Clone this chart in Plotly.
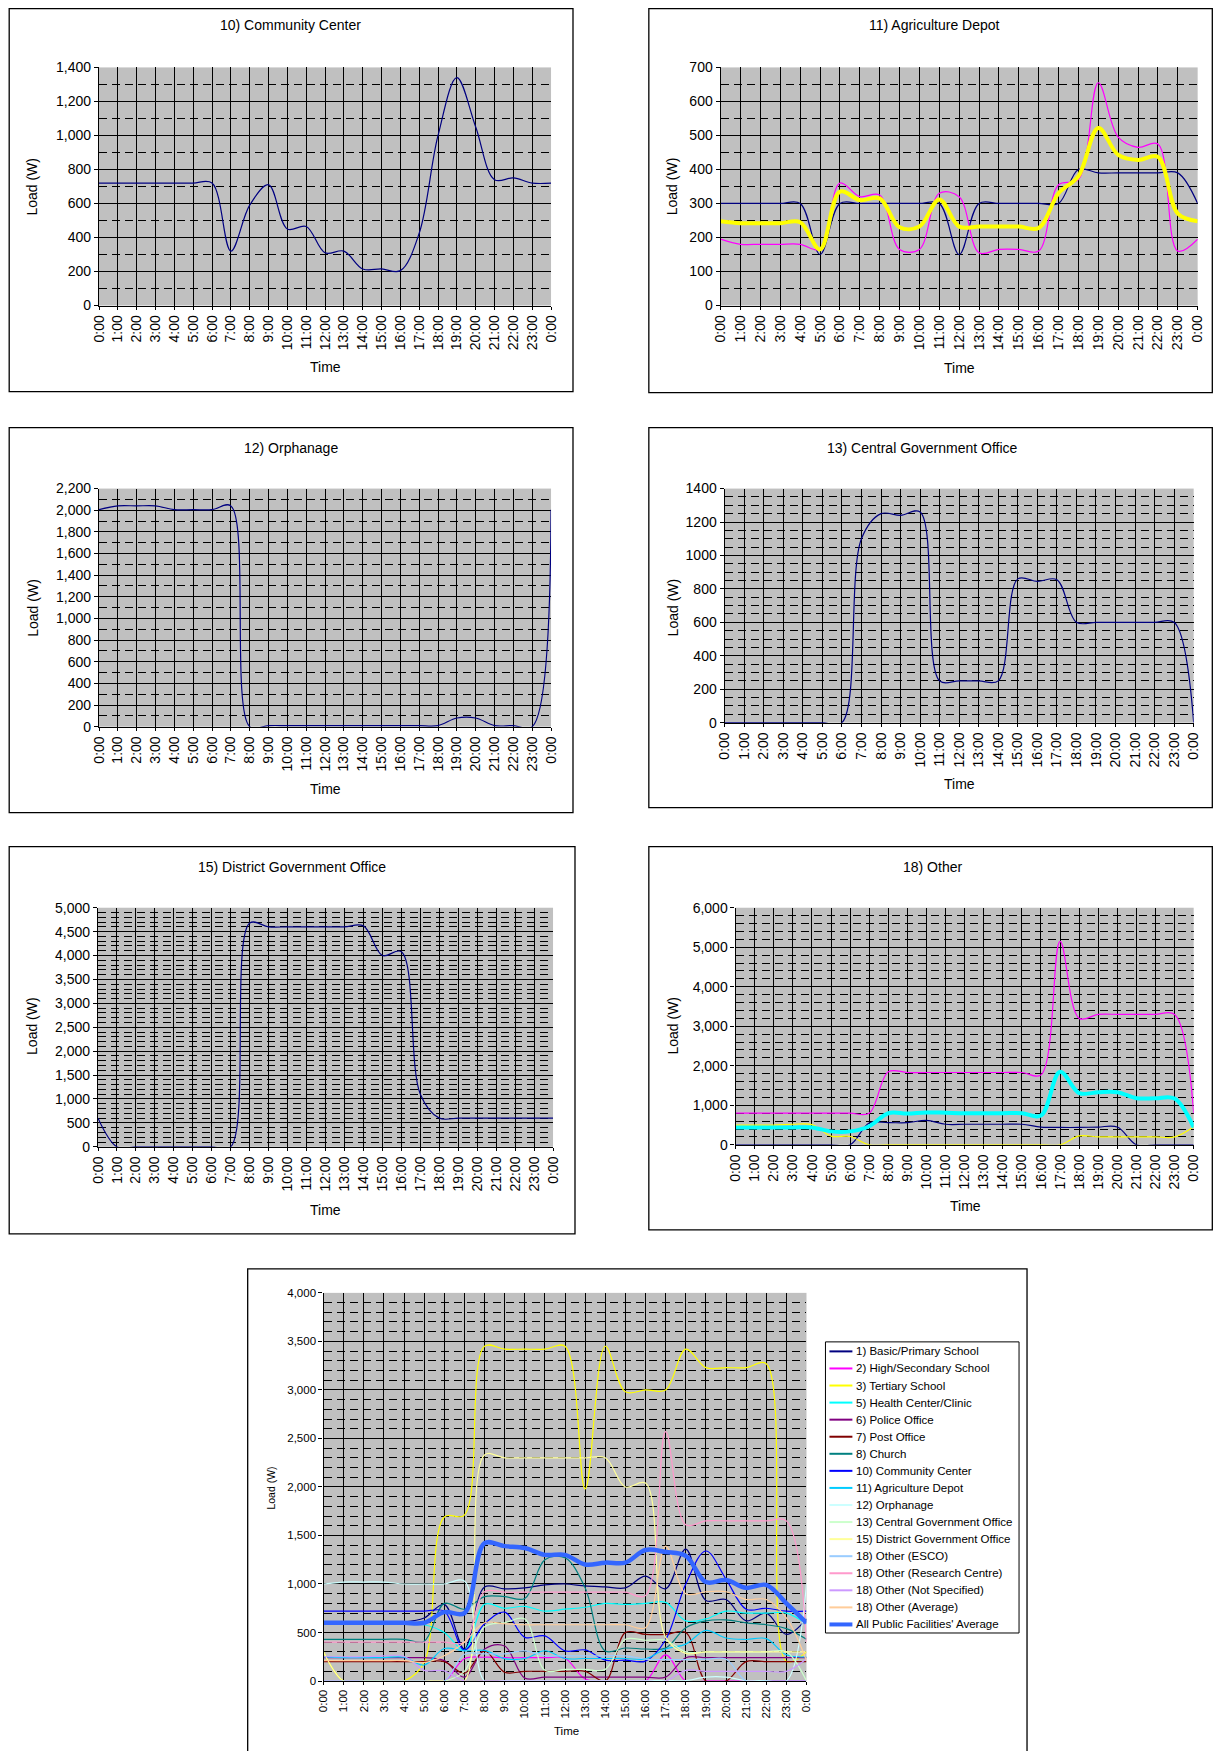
import plotly.graph_objects as go

W, H = 1221, 1751
FONT = "Liberation Sans, Arial, sans-serif"
# Measured page-to-picture mapping of the rendering pipeline (picture = S * page + C);
# target positions below are picture pixels and are mapped back to figure pixels.
SX, CX = 0.989, 7.8
SY, CY = 0.9905, 7.6

HOURS = list(range(25))
TIME_LABELS = ["0:00", "1:00", "2:00", "3:00", "4:00", "5:00", "6:00", "7:00", "8:00",
               "9:00", "10:00", "11:00", "12:00", "13:00", "14:00", "15:00", "16:00",
               "17:00", "18:00", "19:00", "20:00", "21:00", "22:00", "23:00", "0:00"]

# ---- Panel 10) Community Center
COMMUNITY = [720, 720, 720, 720, 720, 720, 720, 320, 590, 710, 450, 465, 310, 320, 215,
             215, 205, 425, 1000, 1340, 1050, 740, 750, 720, 720]

# ---- Panel 11) Agriculture Depot
AGRI_A = [300, 300, 300, 300, 300, 150, 300, 300, 300, 300, 300, 300, 150, 300, 300,
          300, 300, 300, 400, 390, 390, 390, 390, 390, 300]
AGRI_B = [195, 180, 180, 180, 180, 165, 360, 320, 325, 165, 165, 330, 320, 155, 165,
          165, 160, 355, 370, 655, 495, 465, 475, 160, 195]
AGRI_AVG = [248, 242, 242, 242, 245, 165, 335, 310, 315, 230, 232, 312, 232, 232, 232,
            232, 228, 330, 380, 522, 443, 428, 437, 270, 248]

# ---- Panel 12) Orphanage
ORPHANAGE = [2005, 2040, 2040, 2040, 2005, 2005, 2005, 2040, 0, 10, 10, 10, 10, 10, 10,
             10, 10, 10, 10, 80, 80, 10, 10, 0, 2005]

# ---- Panel 13) Central Government Office
CENTRAL_GOV = [0, 0, 0, 0, 0, 0, 0, 1100, 1250, 1240, 1260, 250, 250, 250, 250, 860,
               845, 855, 600, 600, 600, 600, 600, 600, 0]

# ---- Panel 15) District Government Office
DISTRICT_GOV = [600, 0, 0, 0, 0, 0, 0, 0, 4680, 4600, 4600, 4600, 4600, 4600, 4620,
                4000, 4080, 1100, 600, 600, 600, 600, 600, 600, 600]

# ---- Panel 18) Other
OTHER_ESCO = [0, 0, 0, 0, 0, 0, 0, 550, 560, 560, 620, 520, 520, 520, 520, 520, 450,
              440, 440, 450, 450, 0, 0, 0, 0]
OTHER_RESEARCH = [800, 800, 800, 800, 800, 800, 800, 800, 1850, 1830, 1830, 1830, 1830,
                  1830, 1830, 1830, 1770, 5150, 3200, 3300, 3300, 3300, 3300, 3300, 800]
OTHER_NOTSPEC = [500, 500, 500, 520, 510, 220, 210, 0, 0, 0, 0, 0, 0, 0, 0, 0, 0, 0,
                 225, 200, 200, 200, 200, 200, 460]
OTHER_AVG = [440, 440, 440, 440, 440, 340, 340, 470, 800, 790, 820, 810, 800, 800, 800,
             800, 740, 1850, 1310, 1330, 1330, 1180, 1180, 1170, 440]

# ---- Summary panel (all facilities)
ALL_NAMES = ["1) Basic/Primary School", "2) High/Secondary School", "3) Tertiary School",
             "5) Health Center/Clinic", "6) Police Office", "7) Post Office", "8) Church",
             "10) Community Center", "11) Agriculture Depot", "12) Orphanage",
             "13) Central Government Office", "15) District Government Office",
             "18) Other (ESCO)", "18) Other (Research Centre)", "18) Other (Not Specified)",
             "18) Other (Average)", "All Public Facilities' Average"]
S_PRIMARY = [610, 610, 610, 610, 610, 650, 790, 330, 970, 950, 960, 990, 1000, 980, 970,
             960, 1080, 950, 1360, 830, 840, 620, 700, 480, 640]
S_HIGH = [0, 0, 0, 0, 0, 0, 0, 230, 245, 240, 240, 240, 235, 20, 0, 0, 0, 270, 0, 0, 0,
          0, 0, 0, 0]
S_TERTIARY = [300, 0, 0, 0, 0, 190, 1690, 1710, 3450, 3420, 3420, 3420, 3450, 1980, 3450,
              2980, 3000, 3000, 3420, 3230, 3230, 3230, 3270, 200, 300]
S_HEALTH = [590, 590, 590, 590, 590, 580, 500, 320, 790, 750, 770, 720, 740, 760, 800,
            790, 800, 810, 620, 640, 720, 700, 700, 700, 590]
S_POLICE = [240, 240, 240, 240, 240, 240, 210, 40, 330, 360, 30, 40, 40, 40, 40, 40, 40,
            40, 240, 240, 240, 240, 240, 240, 240]
S_POST = [200, 200, 200, 200, 200, 200, 200, 80, 310, 90, 100, 100, 100, 100, 0, 500, 480,
          480, 500, 0, 0, 200, 200, 200, 200]
S_CHURCH = [430, 430, 430, 430, 430, 410, 800, 740, 870, 870, 850, 1250, 1270, 960, 310,
            340, 330, 340, 550, 620, 630, 600, 580, 540, 430]
S_COMMUNITY = [720, 720, 720, 720, 720, 720, 720, 320, 590, 710, 450, 465, 310, 320, 215,
               215, 205, 425, 1000, 1340, 1050, 740, 750, 720, 720]
S_AGRI = [248, 242, 242, 242, 245, 165, 335, 310, 315, 230, 232, 312, 232, 232, 232, 232,
          228, 330, 380, 522, 443, 428, 437, 270, 248]
S_ORPHANAGE = [1000, 1020, 1020, 1020, 1000, 1000, 1000, 1030, 0, 5, 5, 5, 5, 5, 5, 5, 5,
               5, 5, 40, 40, 5, 5, 0, 1000]
S_CENTRAL = [0, 0, 0, 0, 0, 0, 0, 100, 560, 600, 640, 110, 120, 120, 120, 430, 420, 420,
             300, 300, 300, 300, 300, 300, 0]
S_DISTRICT = [300, 0, 0, 0, 0, 0, 0, 0, 2330, 2300, 2300, 2300, 2300, 2300, 2300, 2000,
              2040, 450, 285, 300, 300, 300, 300, 300, 300]
S_ESCO = [0, 0, 0, 0, 0, 0, 0, 275, 280, 280, 310, 260, 260, 260, 260, 260, 225, 220, 220,
          225, 225, 0, 0, 0, 0]
S_RESEARCH = [400, 400, 400, 400, 400, 400, 400, 400, 920, 915, 915, 915, 915, 915, 915,
              915, 880, 2570, 1610, 1650, 1650, 1650, 1650, 1650, 400]
S_NOTSPEC = [250, 250, 250, 260, 255, 110, 105, 0, 0, 0, 0, 0, 0, 0, 0, 0, 0, 0, 110, 100,
             100, 100, 100, 100, 230]
S_OTHER_AVG = [210, 210, 210, 210, 210, 190, 260, 400, 600, 590, 580, 580, 580, 580, 580,
               580, 550, 1390, 900, 920, 920, 840, 840, 650, 210]
S_ALL_AVG = [600, 600, 600, 600, 600, 600, 710, 700, 1420, 1390, 1370, 1300, 1300, 1200,
             1220, 1220, 1350, 1330, 1290, 1020, 1040, 960, 990, 800, 600]

ALL_SERIES = [S_PRIMARY, S_HIGH, S_TERTIARY, S_HEALTH, S_POLICE, S_POST, S_CHURCH,
              S_COMMUNITY, S_AGRI, S_ORPHANAGE, S_CENTRAL, S_DISTRICT, S_ESCO,
              S_RESEARCH, S_NOTSPEC, S_OTHER_AVG, S_ALL_AVG]
ALL_COLORS = ["#000080", "#FF00FF", "#FFFF00", "#00FFFF", "#800080", "#800000", "#008080",
              "#0000FF", "#00CCFF", "#CCFFFF", "#CCFFCC", "#FFFF99", "#99CCFF", "#FF99CC",
              "#CC99FF", "#FFCC99", "#3366FF"]

# ---- layout of panels (target picture pixel geometry)
PANELS = [
    dict(title="10) Community Center", box=(9, 6, 574, 391), plot=(99, 67, 552, 305),
         yr=1400, dtick=200, minor=100, fmt=",", title_xy=(291, 25), time_xy=(326, 366),
         load_xy=(32, 186), fs=14),
    dict(title="11) Agriculture Depot", box=(650, 6, 1220, 392), plot=(722, 67, 1200, 305),
         yr=700, dtick=100, minor=50, fmt=",", title_xy=(936, 25), time_xy=(961, 367),
         load_xy=(674, 186), fs=14),
    dict(title="12) Orphanage", box=(9, 427, 574, 812), plot=(99, 488, 552, 726),
         yr=2200, dtick=200, minor=100, fmt=",", title_xy=(291, 447), time_xy=(326, 788),
         load_xy=(32, 607), fs=14),
    dict(title="13) Central Government Office", box=(650, 427, 1217, 807),
         plot=(726, 488, 1196, 722), yr=1400, dtick=200, minor=50, fmt="d",
         title_xy=(924, 447), time_xy=(961, 783), load_xy=(674, 607), fs=14),
    dict(title="15) District Government Office", box=(9, 846, 576, 1233),
         plot=(98, 907, 554, 1146), yr=5000, dtick=500, minor=100, fmt=",",
         title_xy=(292, 866), time_xy=(326, 1209), load_xy=(32, 1025), fs=14),
    dict(title="18) Other", box=(650, 846, 1217, 1229), plot=(737, 907, 1196, 1144),
         yr=6000, dtick=1000, minor=200, fmt=",", title_xy=(934, 866),
         time_xy=(967, 1205), load_xy=(674, 1025), fs=14),
    dict(title=None, box=(248, 1268, 1029, 1800), plot=(324, 1292, 808, 1680),
         yr=4000, dtick=500, minor=100, fmt=",", title_xy=None, time_xy=(567, 1730),
         load_xy=(271, 1487), fs=11.5),
]
LEGEND_BOX = (827, 1341, 1021, 1632)
LEGEND_FIRST_Y = 1350.5
LEGEND_STEP = 17.06
LEGEND_LINE_X = (831, 854)
LEGEND_TEXT_X = 856


def fx(t, clamp=False):
    p = (t - CX) / SX
    if clamp:
        p = min(max(p, 0.7), W - 0.7)
    return p / W


def fy(t, clamp=False):
    p = (t - CY) / SY
    if clamp:
        p = max(p, 0.7)
    return 1 - p / H


fig = go.Figure()


def axis_ids(i):
    return ("x", "y") if i == 0 else ("x%d" % (i + 1), "y%d" % (i + 1))


def add_line(i, y, color, width, name=None):
    xa, ya = axis_ids(i)
    fig.add_trace(go.Scatter(
        x=HOURS, y=y, mode="lines", name=name, showlegend=False,
        line=dict(color=color, width=width, shape="spline", smoothing=1),
        xaxis=xa, yaxis=ya, hoverinfo="skip"))


add_line(0, COMMUNITY, "#000080", 1.2)
add_line(1, AGRI_A, "#000080", 1.2)
add_line(1, AGRI_B, "#FF00FF", 1.2)
add_line(1, AGRI_AVG, "#FFFF00", 4)
add_line(2, ORPHANAGE, "#000080", 1.2)
add_line(3, CENTRAL_GOV, "#000080", 1.2)
add_line(4, DISTRICT_GOV, "#000080", 1.2)
add_line(5, OTHER_ESCO, "#000080", 1.2)
add_line(5, OTHER_RESEARCH, "#FF00FF", 1.2)
add_line(5, OTHER_NOTSPEC, "#FFFF00", 1.2)
add_line(5, OTHER_AVG, "#00FFFF", 4)
LAST = len(ALL_NAMES) - 1
for k, (nm, ser, col) in enumerate(zip(ALL_NAMES, ALL_SERIES, ALL_COLORS)):
    add_line(6, ser, col, 4.5 if k == LAST else 1.2, name=nm)

shapes = []
annotations = []
layout = {}
for i, p in enumerate(PANELS):
    bx0, by0, bx1, by1 = p["box"]
    shapes.append(dict(type="rect", xref="paper", yref="paper", layer="below",
                       x0=fx(bx0, True), x1=fx(bx1, True), y0=fy(by1),
                       y1=fy(by0, True), line=dict(color="black", width=1.3)))
    px0, py0, px1, py1 = p["plot"]
    xa, ya = axis_ids(i)
    xkey = "xaxis" if i == 0 else "xaxis%d" % (i + 1)
    ykey = "yaxis" if i == 0 else "yaxis%d" % (i + 1)
    fs = p["fs"]
    layout[xkey] = dict(
        domain=[fx(px0), fx(px1)], anchor=ya, range=[0, 24], tickmode="array",
        tickvals=HOURS, ticktext=TIME_LABELS, tickangle=-90,
        tickfont=dict(family=FONT, size=fs, color="black"),
        showgrid=True, gridcolor="black", gridwidth=1, showline=True,
        linecolor="black", linewidth=1.3, ticks="outside", ticklen=3,
        tickcolor="black", zeroline=False, fixedrange=True)
    layout[ykey] = dict(
        domain=[fy(py1), fy(py0)], anchor=xa, range=[0, p["yr"]],
        tickmode="linear", tick0=0, dtick=p["dtick"], tickformat=p["fmt"],
        tickfont=dict(family=FONT, size=fs, color="black"),
        showgrid=True, gridcolor="black", gridwidth=1, showline=True,
        linecolor="black", linewidth=1.3, ticks="outside", ticklen=4,
        tickcolor="black", zeroline=False, fixedrange=True,
        minor=dict(dtick=p["minor"], tick0=0, showgrid=True, gridcolor="black",
                   gridwidth=1, griddash="8px,5px", ticks=""))
    if p["title"]:
        tx, ty = p["title_xy"]
        annotations.append(dict(text=p["title"], x=fx(tx), y=fy(ty), xref="paper",
                                yref="paper", showarrow=False, xanchor="center",
                                yanchor="middle",
                                font=dict(family=FONT, size=14, color="black")))
    tx, ty = p["time_xy"]
    annotations.append(dict(text="Time", x=fx(tx), y=fy(ty), xref="paper",
                            yref="paper", showarrow=False, xanchor="center",
                            yanchor="middle",
                            font=dict(family=FONT, size=14 if fs > 12 else 11.5,
                                      color="black")))
    lx, ly = p["load_xy"]
    annotations.append(dict(text="Load (W)", x=fx(lx), y=fy(ly), xref="paper",
                            yref="paper", showarrow=False, textangle=-90,
                            xanchor="center", yanchor="middle",
                            font=dict(family=FONT, size=14 if fs > 12 else 10.5,
                                      color="black")))

# ---- legend of the summary panel (drawn with shapes and text)
lx0, ly0, lx1, ly1 = LEGEND_BOX
shapes.append(dict(type="rect", xref="paper", yref="paper", layer="above",
                   x0=fx(lx0), x1=fx(lx1), y0=fy(ly1), y1=fy(ly0),
                   line=dict(color="black", width=1), fillcolor="white"))
for k, (nm, col) in enumerate(zip(ALL_NAMES, ALL_COLORS)):
    yc = LEGEND_FIRST_Y + k * LEGEND_STEP
    shapes.append(dict(type="line", xref="paper", yref="paper", layer="above",
                       x0=fx(LEGEND_LINE_X[0]), x1=fx(LEGEND_LINE_X[1]),
                       y0=fy(yc), y1=fy(yc),
                       line=dict(color=col, width=4 if k == LAST else 2)))
    annotations.append(dict(text=nm, x=fx(LEGEND_TEXT_X), y=fy(yc), xref="paper",
                            yref="paper", showarrow=False, xanchor="left",
                            yanchor="middle",
                            font=dict(family=FONT, size=11.5, color="black")))

fig.update_layout(
    width=W, height=H, margin=dict(l=0, r=0, t=0, b=0), autosize=False,
    paper_bgcolor="white", plot_bgcolor="#C0C0C0", showlegend=False,
    font=dict(family=FONT, color="black"),
    shapes=shapes, annotations=annotations,
    **layout)

fig.write_html("out.html", config={"displayModeBar": False},
               post_script="document.body.style.margin='0';")
